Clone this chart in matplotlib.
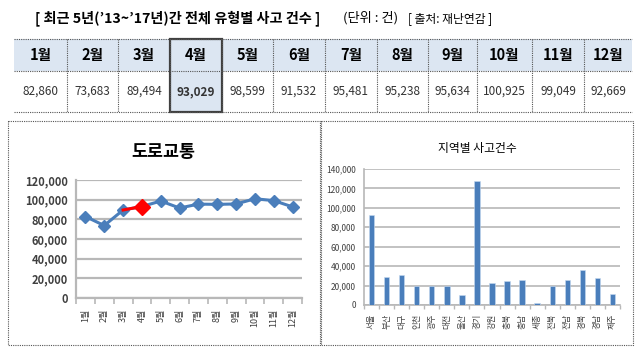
import matplotlib
matplotlib.use("Agg")
import matplotlib.pyplot as plt
from matplotlib.patches import Rectangle

plt.rcParams['font.family'] = ['Noto Sans CJK KR', 'DejaVu Sans']

# ------------------ data ------------------
months = ['1월', '2월', '3월', '4월', '5월', '6월', '7월', '8월', '9월', '10월', '11월', '12월']
month_counts = [82860, 73683, 89494, 93029, 98599, 91532, 95481, 95238, 95634, 100925, 99049, 92669]
highlight = 3  # 4월

regions = ['서울', '부산', '대구', '인천', '광주', '대전', '울산', '경기', '강원',
           '충북', '충남', '세종', '전북', '전남', '경북', '경남', '제주']
region_counts = [92600, 28900, 31300, 20000, 20000, 20000, 10700, 128000, 22400,
                 24800, 26200, 2400, 20000, 26200, 35800, 28200, 11700]

W, H = 644, 358
BLUE = '#4a7ebb'
GRID = '#b8b8b8'

fig = plt.figure(figsize=(W / 100, H / 100), dpi=100)

# overlay in pixel coords for the title, table and panel boxes
ov = fig.add_axes([0, 0, 1, 1])
ov.set_xlim(0, W)
ov.set_ylim(H, 0)
ov.axis('off')

ov.text(35, 18, "[ 최근 5년(’13~’17년)간 전체 유형별 사고 건수 ]", fontsize=10.2,
        fontweight='bold', ha='left', va='center')
ov.text(343, 18, "(단위 : 건)", fontsize=9.5, ha='left', va='center')
ov.text(408, 19, "[ 출처: 재난연감 ]", fontsize=8.5, ha='left', va='center')

# table
col_edges = [14, 67, 118, 170, 222, 273, 325, 377, 428, 477, 532, 584, 632]
top, mid, bot = 39, 71, 112
head_bg = '#dce6f2'
ov.add_patch(Rectangle((col_edges[0], top), col_edges[-1] - col_edges[0], mid - top,
                       facecolor=head_bg, edgecolor='none'))
ov.add_patch(Rectangle((col_edges[highlight], mid), col_edges[highlight + 1] - col_edges[highlight],
                       bot - mid, facecolor=head_bg, edgecolor='none'))
for y in (top, mid, bot):
    ov.plot([col_edges[0], col_edges[-1]], [y, y], ls=(0, (1, 1)), color='#555555', lw=0.8)
for x in col_edges[1:-1]:
    ov.plot([x, x], [top, bot], ls=(0, (1, 1)), color='#555555', lw=0.8)
for i, (m, v) in enumerate(zip(months, month_counts)):
    cx = (col_edges[i] + col_edges[i + 1]) / 2
    ov.text(cx, (top + mid) / 2, m, fontsize=10.5, fontweight='bold', ha='center', va='center')
    ov.text(cx, (mid + bot) / 2, f"{v:,}", fontsize=8.5, ha='center', va='center',
            color='#333333', fontweight='bold' if i == highlight else 'normal')
ov.add_patch(Rectangle((col_edges[highlight], top), col_edges[highlight + 1] - col_edges[highlight],
                       bot - top, facecolor='none', edgecolor='#404040', lw=1.6))

# panel boxes
for x0, x1 in ((8, 320), (321, 633)):
    ov.add_patch(Rectangle((x0, 121), x1 - x0, 345 - 121, facecolor='none',
                           edgecolor='#555555', lw=0.8, ls=(0, (1, 1))))


def px_axes(x0, x1, ytop, ybot):
    return fig.add_axes([x0 / W, 1 - ybot / H, (x1 - x0) / W, (ybot - ytop) / H])


def style(ax, ymax, step, lw_grid):
    ax.set_facecolor('none')
    ax.set_ylim(0, ymax)
    ax.set_yticks(range(0, ymax + 1, step))
    ax.set_yticklabels([f"{t:,}" for t in range(0, ymax + 1, step)])
    ax.grid(axis='y', color=GRID, lw=lw_grid)
    ax.set_axisbelow(True)
    for s in ('top', 'right'):
        ax.spines[s].set_visible(False)
    for s in ('left', 'bottom'):
        ax.spines[s].set_color(GRID)
        ax.spines[s].set_linewidth(lw_grid)
    ax.tick_params(axis='y', length=0, pad=6)


# ------------------ left: 도로교통 ------------------
ax1 = px_axes(76, 302, 180, 298)
style(ax1, 120000, 20000, 1.6)
x = list(range(len(months)))
ax1.plot(x, month_counts, color=BLUE, lw=2.2, marker='D', ms=6.5, zorder=3)
ax1.plot(x[highlight - 1:highlight + 1], month_counts[highlight - 1:highlight + 1],
         color='#ff0000', lw=2.2, zorder=4)
ax1.plot([x[highlight]], [month_counts[highlight]], color='#ff0000', marker='D', ms=8.5, zorder=5)
ax1.set_xlim(-0.5, len(months) - 0.5)
ax1.set_xticks(x)
ax1.set_xticklabels(months, rotation=90, fontsize=6.5, color='#404040')
ax1.set_xticks([i + 0.5 for i in range(-1, len(months))], minor=True)
ax1.tick_params(axis='x', which='major', length=0, pad=8)
ax1.tick_params(axis='x', which='minor', length=4, color=GRID, width=1.2)
ax1.tick_params(axis='y', labelsize=8, labelcolor='#404040')
for t in ax1.get_yticklabels():
    t.set_fontweight('bold')
fig.text(163 / W, 1 - 152 / H, '도로교통', fontsize=12.5, fontweight='bold', ha='center', va='center')

# ------------------ right: 지역별 사고건수 ------------------
ax2 = px_axes(364, 620, 169, 305)
style(ax2, 140000, 20000, 1.2)
xr = list(range(len(regions)))
ax2.bar(xr, region_counts, width=0.36, color=BLUE, edgecolor='#c6d9f0', lw=0.4, zorder=3)
ax2.set_xlim(-0.5, len(regions) - 0.5)
ax2.set_xticks(xr)
ax2.set_xticklabels(regions, rotation=90, fontsize=6, color='#404040')
ax2.set_xticks([i + 0.5 for i in range(-1, len(regions))], minor=True)
ax2.tick_params(axis='x', which='major', length=0, pad=6)
ax2.tick_params(axis='x', which='minor', length=3, color=GRID, width=1)
ax2.tick_params(axis='y', labelsize=6, labelcolor='#404040')
fig.text(477 / W, 1 - 149 / H, '지역별 사고건수', fontsize=8.5, ha='center', va='center')

fig.savefig('out.png', dpi=100, facecolor='white')
